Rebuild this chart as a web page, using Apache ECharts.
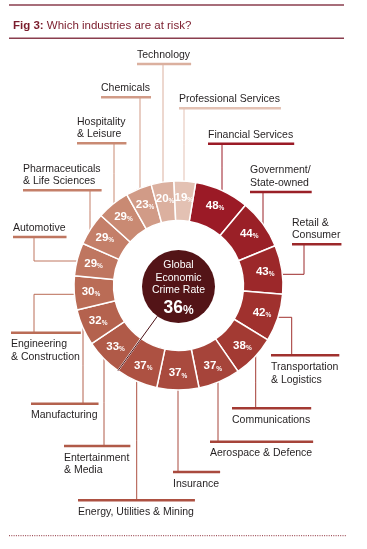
<!DOCTYPE html>
<html><head><meta charset="utf-8">
<script src="https://cdn.jsdelivr.net/npm/echarts@6/dist/echarts.min.js"></script>
<style>html,body{margin:0;padding:0;background:#fff}#c{width:367px;height:549px}</style>
</head><body><div id="c"></div>
<script>
// ---- data ----
const industries = ['Financial Services', 'Government/\nState-owned', 'Retail &\nConsumer', 'Transportation\n& Logistics',
  'Communications', 'Aerospace & Defence', 'Insurance', 'Energy, Utilities & Mining', 'Entertainment\n& Media',
  'Manufacturing', 'Engineering\n& Construction', 'Automotive', 'Pharmaceuticals\n& Life Sciences',
  'Hospitality\n& Leisure', 'Chemicals', 'Technology', 'Professional Services'];
const rates = [48, 44, 43, 42, 38, 37, 37, 37, 33, 32, 30, 29, 29, 29, 23, 20, 19];
const globalLabel = 'Global\nEconomic\nCrime Rate';
const globalRate = 36;
const titleBold = 'Fig 3:';
const titleText = 'Which industries are at risk?';

// ---- style / layout ----
const colors = ['#9b1a26', '#9a2027', '#9c282a', '#a0312e', '#a33a33', '#a6443a', '#a94a3e', '#ad5142',
  '#b05a48', '#b4624e', '#ba6c56', '#bf7660', '#c47f69', '#c98a73', '#d19b87', '#dbb09f', '#e3c1b3'];
const CX = 178.5, CY = 285.5, R0 = 65, R1 = 104.5, RC = 36.5;
const START = 80.5;
const FONT = '"Liberation Sans", Arial, Helvetica, sans-serif';
const FS = 10.5, LH = 12.7, UT = 5, UB = 11;
const TXT = '#231f20';
// underline left x, underline y, connector x, optional horizontal connector y, text below underline
const labelPos = [
  {ux: 208, uy: 143.7, lx: 222},
  {ux: 250, uy: 192, lx: 263},
  {ux: 292, uy: 244.3, lx: 304, hy: 274.3},
  {ux: 271, uy: 355.3, lx: 291.7, hy: 317.3, below: true},
  {ux: 232, uy: 408.3, lx: 255.7, below: true},
  {ux: 210, uy: 441.7, lx: 218, below: true},
  {ux: 173, uy: 472, lx: 178, below: true},
  {ux: 78, uy: 500.3, lx: 136.7, below: true},
  {ux: 64, uy: 446, lx: 104, below: true},
  {ux: 31, uy: 403.7, lx: 83, below: true},
  {ux: 11, uy: 332.7, lx: 34, hy: 294.3, below: true},
  {ux: 13, uy: 237, lx: 34, hy: 261},
  {ux: 23, uy: 190.3, lx: 90},
  {ux: 77, uy: 143.3, lx: 114},
  {ux: 101, uy: 97.3, lx: 140},
  {ux: 137, uy: 64, lx: 163},
  {ux: 179, uy: 108.3, lx: 184}
];

const mctx = document.createElement('canvas').getContext('2d');
mctx.font = FS + 'px ' + FONT;
function textW(s) { return Math.max.apply(null, s.split('\n').map(l => mctx.measureText(l).width)); }

const rich = {t: {fontSize: FS, lineHeight: LH, color: TXT, fontFamily: FONT}};
const labelTexts = industries.map((name, i) => {
  const L = labelPos[i];
  rich['u' + i] = {width: textW(name) + 1, height: 2.6, lineHeight: L.below ? UB : UT, backgroundColor: colors[i]};
  const lines = name.split('\n').map(l => '{t|' + l + '}');
  const u = '{u' + i + '|}';
  return (L.below ? [u].concat(lines) : lines.concat([u])).join('\n');
});

const labelData = industries.map((name, i) => ({
  value: rates[i], name: name,
  itemStyle: {color: colors[i]},
  labelLine: {lineStyle: {color: colors[i], width: 1, opacity: 1}}
}));
const ringData = industries.map((name, i) => ({value: rates[i], name: name, itemStyle: {color: colors[i]}}));

// divider at the global rate
const total = rates.reduce((a, b) => a + b, 0);
let cum = 0;
for (let i = 0; i < rates.length; i++) { if (rates[i] >= globalRate) cum += rates[i]; }
const theta = ((90 - START) + cum / total * 360) * Math.PI / 180;
const divider = {
  type: 'line', z: 100, silent: true,
  shape: {x1: CX + RC * Math.sin(theta), y1: CY + 1 - RC * Math.cos(theta), x2: CX + R1 * Math.sin(theta), y2: CY - R1 * Math.cos(theta)},
  style: {stroke: '#4a0f14', lineWidth: 1}
};

const chart = echarts.init(document.getElementById('c'), null, {renderer: 'canvas'});
chart.setOption({
  animation: false,
  title: {
    text: '{b|' + titleBold + '} {r|' + titleText + '}',
    left: 8, top: 14,
    textStyle: {
      fontFamily: FONT, fontSize: 11.5, fontWeight: 'normal', color: '#7a1c2c',
      rich: {
        b: {fontFamily: FONT, fontSize: 11.5, fontWeight: 'bold', color: '#7a1c2c', lineHeight: 14},
        r: {fontFamily: FONT, fontSize: 11.5, fontWeight: 'normal', color: '#7a1c2c', lineHeight: 14}
      }
    }
  },
  graphic: [
    {type: 'line', shape: {x1: 9, y1: 5, x2: 344, y2: 5}, style: {stroke: '#8a3e4e', lineWidth: 1.5}},
    {type: 'line', shape: {x1: 9, y1: 38.3, x2: 344, y2: 38.3}, style: {stroke: '#8a3e4e', lineWidth: 1.5}},
    {type: 'line', shape: {x1: 9, y1: 535.7, x2: 346, y2: 535.7}, style: {stroke: '#8b2a35', lineWidth: 1, lineDash: [1, 1.3]}},
    divider
  ],
  series: [
    {
      type: 'pie', silent: true, center: [CX, CY], radius: [R0, R1], startAngle: START, clockwise: true,
      avoidLabelOverlap: false,
      label: {
        show: true, position: 'outside', alignTo: 'none', overflow: 'none',
        formatter: p => labelTexts[p.dataIndex], rich: rich
      },
      labelLine: {show: true, length: 4, length2: 4},
      labelLayout: function (p) {
        const i = p.dataIndex;
        const L = labelPos[i];
        const n = industries[i].split('\n').length;
        const y = L.below ? L.uy - UB / 2 : L.uy - n * LH - UT / 2;
        let pts;
        if (L.hy != null) {
          const dx = Math.sqrt(R1 * R1 - (L.hy - CY) * (L.hy - CY));
          const rx = L.lx > CX ? CX + dx : CX - dx;
          pts = [[rx, L.hy], [L.lx, L.hy], [L.lx, L.uy]];
        } else {
          const dy = Math.sqrt(R1 * R1 - (L.lx - CX) * (L.lx - CX));
          const ry = L.below ? CY + dy : CY - dy;
          pts = [[L.lx, ry], [L.lx, (ry + L.uy) / 2], [L.lx, L.uy]];
        }
        return {x: L.ux, y: y, align: 'left', verticalAlign: 'top', width: 200, labelLinePoints: pts};
      },
      data: labelData
    },
    {
      type: 'pie', silent: true, center: [CX, CY], radius: [R0, R1], startAngle: START, clockwise: true,
      itemStyle: {borderColor: '#ffffff', borderWidth: 1.5},
      label: {
        show: true, position: 'inside',
        formatter: p => '{n|' + p.value + '}{p|%}',
        rich: {
          n: {fontFamily: FONT, fontSize: 11.5, fontWeight: 'bold', color: '#fff', verticalAlign: 'bottom'},
          p: {fontFamily: FONT, fontSize: 6.5, fontWeight: 'bold', color: '#fff', verticalAlign: 'bottom'}
        }
      },
      labelLine: {show: false},
      data: ringData
    },
    {
      type: 'pie', silent: true, center: [CX, CY + 1], radius: [0, RC],
      itemStyle: {color: '#531417'},
      label: {
        show: true, position: 'center', padding: [3, 0, 0, 0],
        formatter: p => p.name.split('\n').map(l => '{a|' + l + '}').join('\n') + '\n{b|' + p.value + '}{c|%}',
        rich: {
          a: {fontFamily: FONT, fontSize: 10.5, lineHeight: 12.5, color: '#fff'},
          b: {fontFamily: FONT, fontSize: 17.5, fontWeight: 'bold', lineHeight: 20, color: '#fff', verticalAlign: 'bottom'},
          c: {fontFamily: FONT, fontSize: 12, fontWeight: 'bold', lineHeight: 20, color: '#fff', verticalAlign: 'bottom'}
        }
      },
      labelLine: {show: false},
      data: [{value: globalRate, name: globalLabel}]
    }
  ]
});
</script>
</body></html>
